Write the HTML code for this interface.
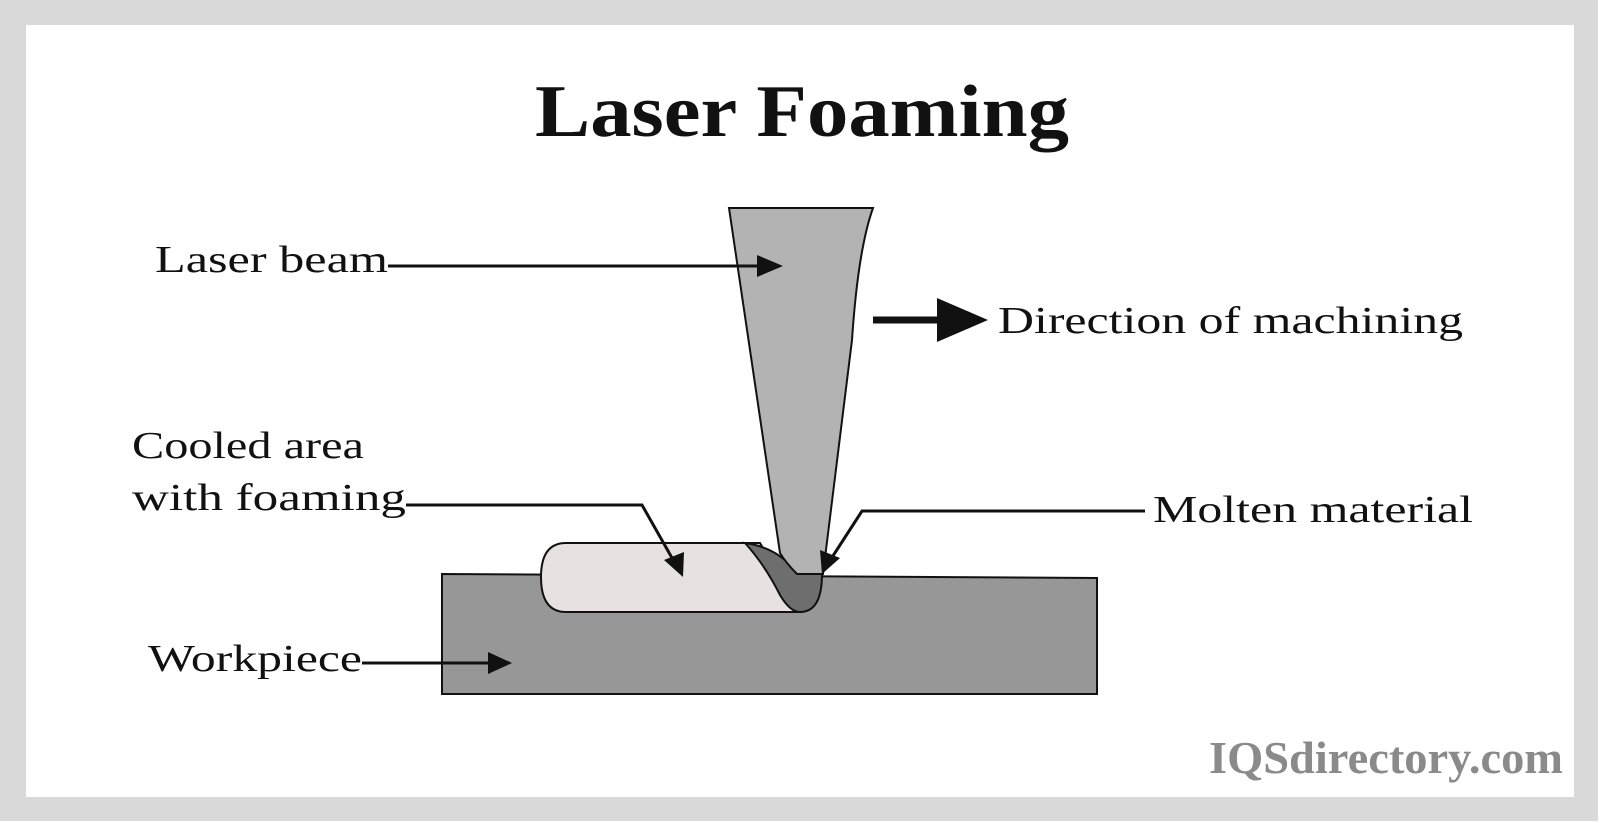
<!DOCTYPE html>
<html><head><meta charset="utf-8"><style>
html,body{margin:0;padding:0;background:#fff;}
svg{display:block;}
text{font-family:"Liberation Serif",serif;}
</style></head><body>
<svg width="1600" height="823" viewBox="0 0 1600 823" xmlns="http://www.w3.org/2000/svg">
<rect x="0" y="0" width="1600" height="823" fill="#fff"/>
<rect x="0" y="0" width="1598" height="821" fill="#d9d9d9"/>
<rect x="26" y="25" width="1548" height="772" fill="#fff"/>

<text x="535" y="136" font-size="74" font-weight="bold" fill="#111" textLength="534" lengthAdjust="spacingAndGlyphs">Laser Foaming</text>

<!-- workpiece -->
<polygon points="442,574 1097,578 1097,694 442,694" fill="#979797" stroke="#111" stroke-width="2"/>

<!-- bead light -->
<path d="M566,543 L760,543 L800,612 L566,612 Q541,612 541,577 Q541,543 566,543 Z" fill="#e8e1e1" stroke="#111" stroke-width="2"/>
<!-- molten dark -->
<path d="M745,543 Q780,548 797,574 L822,574 Q822,612 800,612 Q790,612 780,595 Q765,565 745,543 Z" fill="#6e6e6e" stroke="#111" stroke-width="2"/>
<!-- beam -->
<path d="M729,208 L873,208 Q858,250 852,340 L823,574 L797,574 Q786,563 780,553 Z" fill="#b3b3b3" stroke="#111" stroke-width="2"/>

<!-- laser beam label -->
<text x="155" y="272" font-size="38" fill="#111" textLength="233" lengthAdjust="spacingAndGlyphs">Laser beam</text>
<line x1="388" y1="266" x2="765" y2="266" stroke="#111" stroke-width="3"/>
<polygon points="757,255 783,266 757,277" fill="#111"/>

<!-- direction -->
<line x1="873" y1="320" x2="940" y2="320" stroke="#111" stroke-width="7"/>
<polygon points="937,298 988,320 937,342" fill="#111"/>
<text x="998" y="333" font-size="38" fill="#111" textLength="465" lengthAdjust="spacingAndGlyphs">Direction of machining</text>

<!-- cooled -->
<text x="132" y="458" font-size="38" fill="#111" textLength="232" lengthAdjust="spacingAndGlyphs">Cooled area</text>
<text x="132" y="510" font-size="38" fill="#111" textLength="274" lengthAdjust="spacingAndGlyphs">with foaming</text>
<polyline points="406,505 642,505 676,565" fill="none" stroke="#111" stroke-width="3"/>
<polygon points="664,560 683,577 684,552" fill="#111"/>

<!-- molten -->
<text x="1153" y="522" font-size="38" fill="#111" textLength="320" lengthAdjust="spacingAndGlyphs">Molten material</text>
<polyline points="1145,511 862,511 829,562" fill="none" stroke="#111" stroke-width="3"/>
<polygon points="820,550 822,574 840,558" fill="#111"/>

<!-- workpiece label -->
<text x="148" y="671" font-size="38" fill="#111" textLength="214" lengthAdjust="spacingAndGlyphs">Workpiece</text>
<line x1="362" y1="663" x2="495" y2="663" stroke="#111" stroke-width="3"/>
<polygon points="488,652 512,663 488,674" fill="#111"/>

<text x="1209" y="773" font-size="46" font-weight="bold" fill="#8a8a8a" textLength="354" lengthAdjust="spacingAndGlyphs">IQSdirectory.com</text>
</svg>
</body></html>
